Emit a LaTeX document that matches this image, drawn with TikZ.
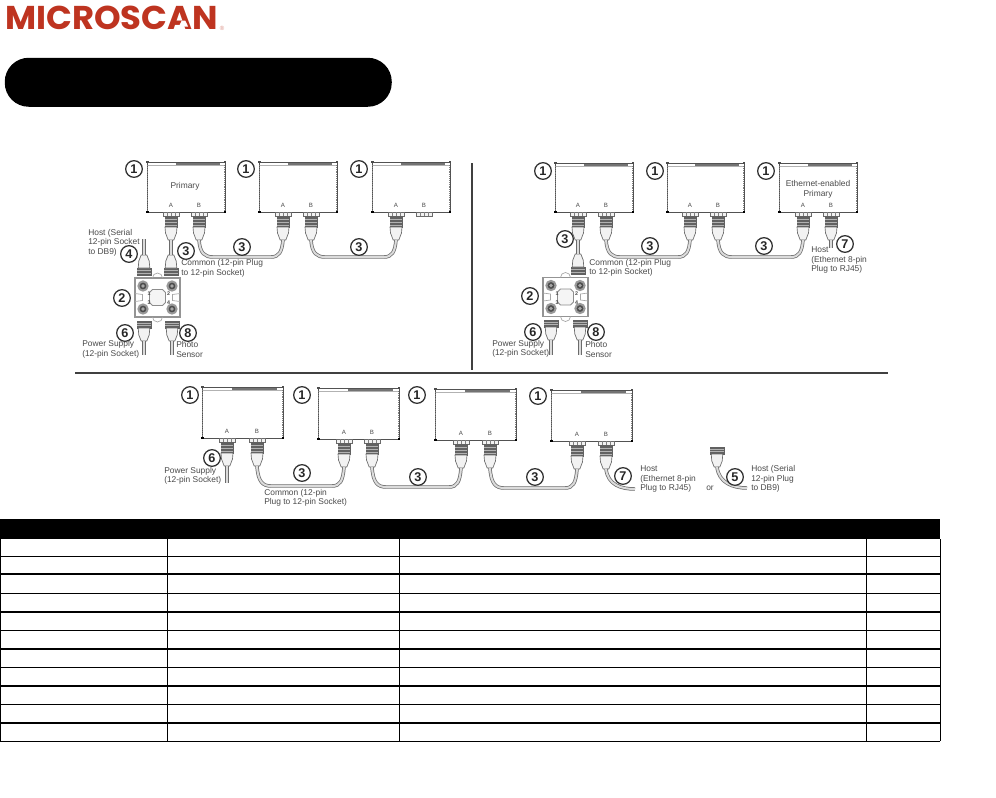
\documentclass[tikz,border=0pt]{standalone}
\usepackage{fontspec}
\setmainfont{Liberation Sans}
\newfontfamily\logofont{Poppins}
\usetikzlibrary{calc}
\definecolor{logored}{HTML}{BE3420}
\definecolor{inkgray}{HTML}{4A4A4A}
\tikzset{
  x=0.75pt,y=-0.75pt,
  cable/.style={draw=black!58,line width=0.55pt,double=black!14,double distance=1.5pt},
  unitbox/.style={draw=black!68,line width=0.65pt,fill=white,inner sep=0,rectangle},
  numc/.style={circle,draw=black!80,line width=0.95pt,fill=white,minimum size=12.5pt,inner sep=0,font=\bfseries\fontsize{9.5}{10}\selectfont,text=black!85},
  lbl/.style={anchor=west,inner sep=0,align=left,text=inkgray,font=\fontsize{6.3}{7.1}\selectfont},
  ctr/.style={anchor=center,inner sep=0,text=inkgray,font=\fontsize{6.3}{7.5}\selectfont,align=center},
  port/.style={anchor=center,inner sep=0,text=inkgray,font=\fontsize{4.6}{5}\selectfont},
  part/.style={draw=black!58,line width=0.5pt,fill=black!5},
  ribs/.style={fill=black!62,draw=black!62,line width=0.3pt},
  rib/.style={draw=black!30,line width=0.3pt},
  tline/.style={draw=black,line width=0.75pt},
  tthick/.style={draw=black,line width=1.5pt},
}
\newcommand{\flange}[2]{%
  \begin{scope}[shift={(#1,#2)}]
    \draw[part] (-8,0) rectangle (8,4);
    \draw[draw=black!50,line width=0.3pt] (-4,0)--(-4,4) (0,0)--(0,4) (4,0)--(4,4);
  \end{scope}}
\newcommand{\plugdown}[3]{%
  \flange{#2}{#3}
  \begin{scope}[shift={(#2,#3)}]
    \fill[ribs] (-6,4) rectangle (6,15);
    \draw[rib] (-6,7)--(6,7) (-6,10)--(6,10) (-6,13)--(6,13);
    \draw[part] (-6,15)--(-5.5,21)--(-2.8,28)--(2.8,28)--(5.5,21)--(6,15)--cycle;
    \coordinate (#1) at (0,28);
  \end{scope}}
\newcommand{\socketend}[4]{%
  \begin{scope}[shift={(#2,#3)},yscale=#4]
    \fill[ribs] (-7,0) rectangle (7,7);
    \draw[rib] (-7,2.3)--(7,2.3) (-7,4.6)--(7,4.6);
    \draw[part] (-5.8,7)--(-5.2,14)--(-2.8,20)--(2.8,20)--(5.2,14)--(5.8,7)--cycle;
    \coordinate (#1) at (0,20);
  \end{scope}}
\newcommand{\scanbox}[5]{%
  \node[unitbox,minimum width=#4*0.75pt,minimum height=#5*0.75pt,anchor=north west] (#1) at (#2,#3) {};
  \begin{scope}[shift={(#2,#3)}]
    \draw[draw=black!30,line width=0.5pt] (1,3.5)--(#4-1,3.5);
    \draw[draw=black!55,line width=1.1pt] (#4*0.37,2.2)--(#4*0.93,2.2);
    \draw[draw=black!50,line width=0.8pt,dash pattern=on 0.7pt off 0.7pt] (0.8,3)--(0.8,#5-1) (#4-0.8,3)--(#4-0.8,#5-1);
    \fill[black] (-0.8,#5-1.5) rectangle (1.5,#5+0.8);
    \fill[black] (#4-1.5,#5-1.5) rectangle (#4+0.8,#5+0.8);
    \fill[black!70] (-0.8,-0.8) rectangle (1.5,1.2);
    \fill[black!70] (#4-1.5,-0.8) rectangle (#4+0.8,1.2);
  \end{scope}}
\newcommand{\hubbox}[3]{%
  \node[draw=black!42,line width=0.8pt,fill=white,minimum width=33.75pt,minimum height=29.25pt,inner sep=0] (#1) at (#2,#3) {};
  \begin{scope}[shift={(#2,#3)}]
    \draw[draw=black!35,line width=0.5pt] (-5,-19.5) arc[start angle=180,end angle=360,radius=5];
    \draw[draw=black!35,line width=0.5pt] (-5,19.5) arc[start angle=180,end angle=0,radius=5];
    \draw[draw=black!35,line width=0.5pt] (-22.5,-4) -- (-15,-3) -- (-15,3) -- (-22.5,4);
    \draw[draw=black!35,line width=0.5pt] (22.5,-4) -- (15,-3) -- (15,3) -- (22.5,4);
    \draw[fill=black!4,draw=black!45,line width=0.6pt] (-8,-5)--(-5,-8)--(5,-8)--(8,-5)--(8,5)--(5,8)--(-5,8)--(-8,5)--cycle;
    \foreach \px/\py in {-14.5/-11.5,14.5/-11.5,-14.5/11.5,14.5/11.5}{
      \draw[draw=black!40,fill=black!70,line width=1.5pt] (\px,\py) circle[radius=4.6];
      \fill[black!35] (\px,\py) circle[radius=1.8];
    }
    \node[port,font=\bfseries\fontsize{4}{4}\selectfont] (#1-p1) at (-8.5,-3.5) {1};
    \node[port,font=\bfseries\fontsize{4}{4}\selectfont] (#1-p2) at (11,-3.5) {2};
    \node[port,font=\bfseries\fontsize{4}{4}\selectfont] (#1-p3) at (-8.5,5.5) {3};
    \node[port,font=\bfseries\fontsize{4}{4}\selectfont] (#1-p4) at (11,5.5) {4};
  \end{scope}}
\newcommand{\cablelink}[3]{%
  \coordinate (lkL) at ($(#1)+(14,#3)$);
  \coordinate (lkR) at ($(#2 |- lkL)+(-12,0)$);
  \draw[cable] (#1) .. controls +(1,0.8*#3) and +(-8,0) .. (lkL)
     -- (lkR) .. controls +(8,0) and +(-1,0.7*#3) .. (#2);}
\begin{document}
\begin{tikzpicture}
\useasboundingbox (0,0) rectangle (996,797);
\fill[white] (0,0) rectangle (996,797);

\node[anchor=north west,inner sep=0,text=logored] (logo) at (5,6)
  {\resizebox{159.5pt}{17.6pt}{\logofont\bfseries MICROSCAN}};
\fill[white] (181.8,20.5)--(185.2,20.5)--(188.1,26.5)--(178.9,26.5)--cycle;
\node[anchor=center,inner sep=0,text=logored!55,font=\fontsize{4.5}{5}\selectfont] (reg) at (222,28) {®};

\node[fill=black,rounded corners=18pt,minimum width=290.25pt,minimum height=36.75pt,inner sep=0,anchor=north west] (pill) at (4.5,57.5) {};

\coordinate (dv1) at (472,163); \coordinate (dv2) at (472,370);
\coordinate (dh1) at (75,373); \coordinate (dh2) at (888,373);
\draw[draw=black!75,line width=0.9pt] (dv1)--(dv2);
\draw[draw=black!75,line width=0.9pt] (dh1)--(dh2);

%%%%% LEFT PANEL
\scanbox{la}{147}{162}{78}{50}
\scanbox{lb}{259}{162}{78}{50}
\scanbox{lc}{372}{162}{78}{50}
\node[ctr] (lap) at (185,186) {Primary};
\foreach \nm/\xx/\tt in {laA/171/A,laB/199/B,lbA/283/A,lbB/311/B,lcA/396/A,lcB/424/B}
  \node[port] (t\nm) at (\xx,205) {\tt};
\plugdown{laAe}{171}{212}
\plugdown{laBe}{199}{212}
\plugdown{lbAe}{283}{212}
\plugdown{lbBe}{311}{212}
\plugdown{lcAe}{396}{212}
\flange{424}{212}
\cablelink{laBe}{lbAe}{17}
\cablelink{lbBe}{lcAe}{17}
\hubbox{lh}{157.5}{297.5}
\socketend{lhAe}{171}{275}{-1}
\socketend{lhHe}{144}{275}{-1}
\draw[cable] (laAe)--(lhAe);
\coordinate (lhost) at (144,239);
\draw[cable] (lhost)--(lhHe);
\socketend{lhPe}{144}{321}{1}
\socketend{lhSe}{172}{321}{1}
\coordinate (lps) at (144,355); \coordinate (lss) at (172,355);
\draw[cable] (lhPe)--(lps);
\draw[cable] (lhSe)--(lss);
\node[numc] (ln1a) at (134,169) {1};
\node[numc] (ln1b) at (246,169) {1};
\node[numc] (ln1c) at (359,169) {1};
\node[numc] (ln3a) at (186,251) {3};
\node[numc] (ln3b) at (242,247) {3};
\node[numc] (ln3c) at (359,247) {3};
\node[numc] (ln4) at (129,254) {4};
\node[numc] (ln2) at (122,298) {2};
\node[numc] (ln6) at (125,333) {6};
\node[numc] (ln8) at (188,333) {8};
\node[lbl] (lt1) at (88,242.5) {Host (Serial\\12-pin Socket\\to DB9)};
\node[lbl] (lt2) at (181,268.5) {Common (12-pin Plug\\to 12-pin Socket)};
\node[lbl] (lt3) at (82,349.5) {Power Supply\\(12-pin Socket)};
\node[lbl] (lt4) at (176,349.5) {Photo\\Sensor};

%%%%% RIGHT PANEL
\scanbox{ra}{555}{163}{78}{49}
\scanbox{rb}{667}{163}{77}{49}
\scanbox{rc}{779}{163}{78}{49}
\node[ctr] (rcp) at (818,183) {Ethernet-enabled};
\node[ctr] (rcq) at (818,194) {Primary};
\foreach \nm/\xx/\tt in {raA/578/A,raB/606/B,rbA/690/A,rbB/718/B,rcA/803/A,rcB/831/B}
  \node[port] (t\nm) at (\xx,205) {\tt};
\plugdown{raAe}{578}{212}
\plugdown{raBe}{606}{212}
\plugdown{rbAe}{690}{212}
\plugdown{rbBe}{718}{212}
\plugdown{rcAe}{803}{212}
\plugdown{rcBe}{831}{212}
\cablelink{raBe}{rbAe}{17}
\cablelink{rbBe}{rcAe}{17}
\coordinate (rhost) at (831,248);
\draw[cable] (rcBe)--(rhost);
\hubbox{rh}{565.5}{297}
\socketend{rhAe}{578}{274}{-1}
\draw[cable] (raAe)--(rhAe);
\socketend{rhPe}{551}{320}{1}
\socketend{rhSe}{580}{320}{1}
\coordinate (rps) at (551,355); \coordinate (rss) at (580,355);
\draw[cable] (rhPe)--(rps);
\draw[cable] (rhSe)--(rss);
\node[numc] (rn1a) at (543,171) {1};
\node[numc] (rn1b) at (655,171) {1};
\node[numc] (rn1c) at (766,171) {1};
\node[numc] (rn3a) at (565,239) {3};
\node[numc] (rn3b) at (650,246) {3};
\node[numc] (rn3c) at (764,246) {3};
\node[numc] (rn7) at (845,244) {7};
\node[numc] (rn2) at (530,296) {2};
\node[numc] (rn6) at (533,332) {6};
\node[numc] (rn8) at (596,332) {8};
\node[lbl] (rt1) at (589,268) {Common (12-pin Plug\\to 12-pin Socket)};
\node[lbl] (rt2) at (811,260) {Host\\(Ethernet 8-pin\\Plug to RJ45)};
\node[lbl] (rt3) at (492,349) {Power Supply\\(12-pin Socket)};
\node[lbl] (rt4) at (585,349.5) {Photo\\Sensor};

%%%%% BOTTOM PANEL
\scanbox{ba}{202}{387}{81}{51}
\scanbox{bb}{318}{388}{81}{51}
\scanbox{bc}{435}{389}{81}{51}
\scanbox{bd}{551}{390}{81}{51}
\foreach \nm/\xx/\yy/\tt in {baA/227/431/A,baB/257/431/B,bbA/344/432/A,bbB/372/432/B,bcA/461/433/A,bcB/490/433/B,bdA/577/434/A,bdB/606/434/B}
  \node[port] (t\nm) at (\xx,\yy) {\tt};
\plugdown{baAe}{227}{438}
\plugdown{baBe}{257}{438}
\plugdown{bbAe}{344}{439}
\plugdown{bbBe}{372}{439}
\plugdown{bcAe}{461}{440}
\plugdown{bcBe}{490}{440}
\plugdown{bdAe}{577}{441}
\plugdown{bdBe}{606}{441}
\cablelink{baBe}{bbAe}{20}
\cablelink{bbBe}{bcAe}{20}
\cablelink{bcBe}{bdAe}{20}
\coordinate (bps) at (227,483);
\draw[cable] (baAe)--(bps);
\coordinate (bh7) at (635,489);
\draw[cable] (bdBe) .. controls +(2,16) and +(-14,0) .. (bh7);
\socketend{bs5e}{717}{447}{1}
\coordinate (bh5) at (747,488);
\draw[cable] (bs5e) .. controls +(2,16) and +(-14,0) .. (bh5);
\node[numc] (bn1a) at (190,395) {1};
\node[numc] (bn1b) at (302,395) {1};
\node[numc] (bn1c) at (417,395) {1};
\node[numc] (bn1d) at (538,396) {1};
\node[numc] (bn6) at (212,458) {6};
\node[numc] (bn3a) at (302,473) {3};
\node[numc] (bn3b) at (418,477) {3};
\node[numc] (bn3c) at (535,477) {3};
\node[numc] (bn7) at (623,476) {7};
\node[numc] (bn5) at (735,477) {5};
\node[lbl] (bt1) at (164,476) {Power Supply\\(12-pin Socket)};
\node[lbl] (bt2) at (264,498) {Common (12-pin\\Plug to 12-pin Socket)};
\node[lbl] (bt3) at (640,479) {Host\\(Ethernet 8-pin\\Plug to RJ45)};
\node[ctr] (bt4) at (710,488.5) {or};
\node[lbl] (bt5) at (751,479) {Host (Serial\\12-pin Plug\\to DB9)};

%%%%% TABLE
\fill[black] (0,519) rectangle (940,539);
\foreach \yy in {556,593,630,667,704,741} \draw[tline] (0,\yy)--(940,\yy);
\foreach \yy in {574,612,649,686,723} \draw[tthick] (0,\yy)--(940,\yy);
\foreach \xx in {0.6,167,399,866,940} \draw[tline] (\xx,539)--(\xx,741);
\end{tikzpicture}
\end{document}
